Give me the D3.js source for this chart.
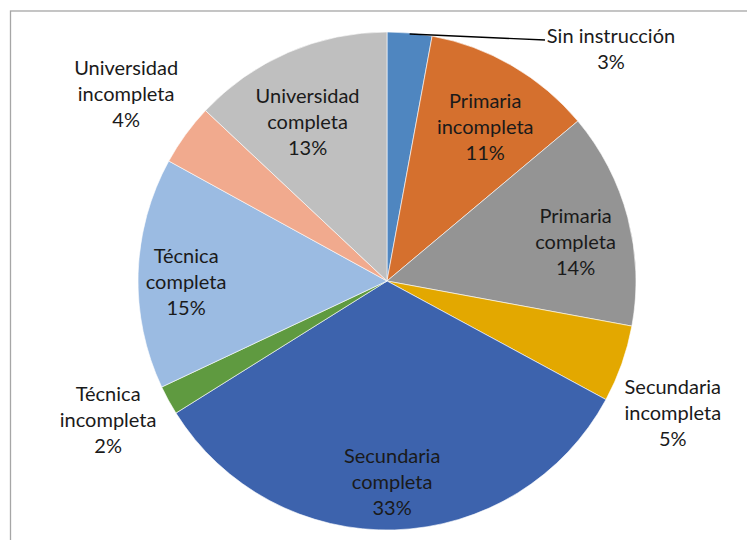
<!DOCTYPE html>
<html>
<head>
<meta charset="utf-8">
<script src="https://cdn.jsdelivr.net/npm/d3@7"></script>
<style>
  html, body { margin: 0; padding: 0; background: #fff; }
  svg { display: block; }
  text { font-family: Lato, "Open Sans", sans-serif; fill: #1a1a1a; }
</style>
</head>
<body>
<svg id="chart" width="747" height="540"></svg>
<script>
// ---- data ----
const categories = [
  "Sin instrucción", "Primaria incompleta", "Primaria completa",
  "Secundaria incompleta", "Secundaria completa", "Técnica incompleta",
  "Técnica completa", "Universidad incompleta", "Universidad completa"
];
const labelLines = [
  ["Sin instrucción"], ["Primaria", "incompleta"], ["Primaria", "completa"],
  ["Secundaria", "incompleta"], ["Secundaria", "completa"], ["Técnica", "incompleta"],
  ["Técnica", "completa"], ["Universidad", "incompleta"], ["Universidad", "completa"]
];
const values = [2.9, 11.0, 14.0, 5.0, 33.2, 1.9, 15.0, 4.0, 13.0];
const colors = ["#4f86c0", "#d5702e", "#949494", "#e3a800", "#3d63ad",
                "#5f9a40", "#9bbbe2", "#f1aa8e", "#bfbfbf"];

// ---- layout ----
const W = 747, H = 540;
const cx = 387, cy = 281, R = 249;
const svg = d3.select("#chart");

// frame
svg.append("rect")
  .attr("x", 10.5).attr("y", 11).attr("width", W + 10).attr("height", H + 10)
  .attr("fill", "none").attr("stroke", "#a6a6a6").attr("stroke-width", 1.3);

const total = d3.sum(values);
const pct = d3.format(".0%");
const pie = d3.pie().sort(null).value(d => d)(values);
const arc = d3.arc().innerRadius(0).outerRadius(R);

const g = svg.append("g").attr("transform", `translate(${cx},${cy})`);
g.selectAll("path.slice").data(pie).join("path")
  .attr("class", "slice")
  .attr("d", arc)
  .attr("fill", (d, i) => colors[i])
  .attr("stroke", "#fff").attr("stroke-width", 0.6);

// label placement: polar radius per slice (inside / outside) plus small nudges
const labelR = [R, 195, 195, 320, 195, 320, 195, 320, 195];
const nudge = [[0,0],[0,14],[0,11],[-16,25],[-1,6],[2,-14],[-6,7],[-2,1],[-2,20]];
const fs = 20, lh = 26;

pie.forEach((d, i) => {
  const a = (d.startAngle + d.endAngle) / 2;
  let x = Math.sin(a) * labelR[i] + nudge[i][0];
  let y = -Math.cos(a) * labelR[i] + nudge[i][1];
  const lines = labelLines[i].concat([pct(d.value / total)]);
  if (i === 0) {
    // callout with leader line
    const sx = Math.sin(a) * R, sy = -Math.cos(a) * R;
    const tx = 611 - cx, ty = 49 - cy;
    x = tx; y = ty;
    g.append("line")
      .attr("x1", sx).attr("y1", sy + 1)
      .attr("x2", tx - 66).attr("y2", ty - 9)
      .attr("stroke", "#000").attr("stroke-width", 1.4);
  }
  const t = g.append("text")
    .attr("text-anchor", "middle")
    .attr("font-size", fs);
  lines.forEach((ln, k) => {
    t.append("tspan")
      .attr("x", x)
      .attr("y", y + (k - (lines.length - 1) / 2) * lh)
      .attr("dy", "0.35em")
      .text(ln);
  });
});
</script>
</body>
</html>
